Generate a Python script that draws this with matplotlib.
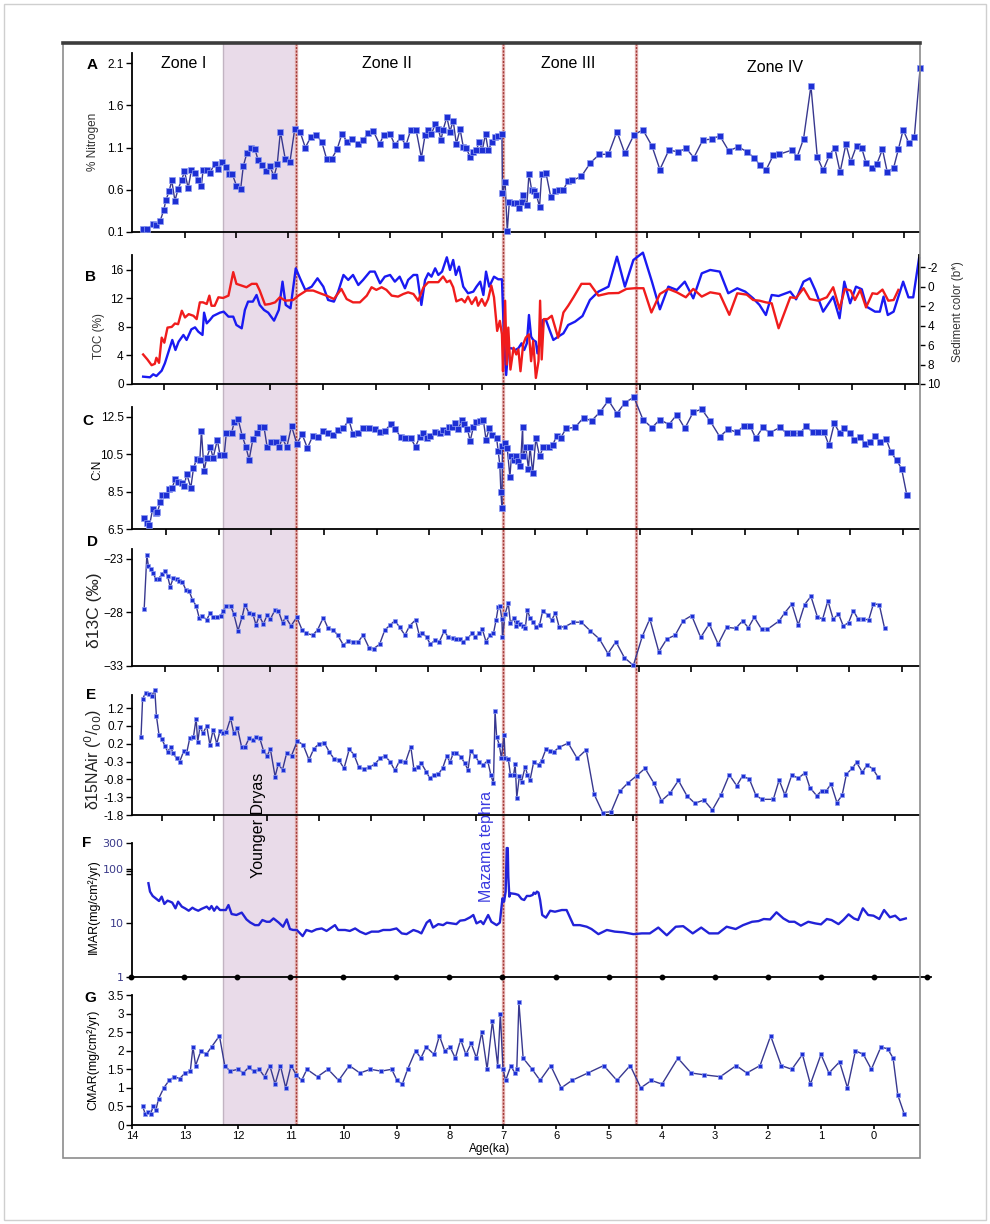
import numpy as np
import matplotlib.pyplot as plt
from matplotlib.lines import Line2D
from matplotlib.patches import Rectangle
from matplotlib.ticker import NullLocator

W, H = 990, 1224

plt.rcParams['font.family'] = ['Liberation Sans', 'DejaVu Sans']
plt.rcParams['axes.unicode_minus'] = False

# age axis layout: pixel column of 0 ka and pixels per ka
X_ZERO_PX = 874
PX_PER_KA = 53.0

# Younger Dryas band and zone boundaries (ka)
YD_START, YD_END = 12.28, 10.91
MAZAMA = 7.0
ZONE_III_IV = 4.49

# A: % nitrogen
nitrogen_age = [13.79, 13.71, 13.60, 13.54, 13.47, 13.40, 13.36, 13.30, 13.25, 13.19,
                13.13, 13.06, 13.01, 12.94, 12.88, 12.81, 12.75, 12.69, 12.66, 12.59,
                12.53, 12.44, 12.37, 12.30, 12.23, 12.17, 12.11, 12.03, 11.95, 11.90,
                11.83, 11.76, 11.68, 11.62, 11.54, 11.47, 11.40, 11.32, 11.26, 11.20,
                11.11, 11.02, 10.93, 10.83, 10.73, 10.63, 10.53, 10.42, 10.33, 10.23,
                10.13, 10.04, 9.94, 9.84, 9.74, 9.64, 9.54, 9.45, 9.33, 9.25,
                9.13, 9.04, 8.93, 8.83, 8.74, 8.64, 8.54, 8.47, 8.41, 8.35,
                8.28, 8.22, 8.17, 8.13, 8.06, 8.00, 7.94, 7.88, 7.81, 7.75,
                7.70, 7.62, 7.56, 7.50, 7.45, 7.39, 7.33, 7.28, 7.20, 7.15,
                7.09, 7.02, 7.01, 6.96, 6.92, 6.88, 6.80, 6.74, 6.70, 6.65,
                6.62, 6.55, 6.51, 6.46, 6.42, 6.37, 6.31, 6.27, 6.19, 6.10,
                6.02, 5.94, 5.86, 5.78, 5.69, 5.52, 5.35, 5.18, 5.01, 4.85,
                4.70, 4.53, 4.36, 4.19, 4.04, 3.87, 3.70, 3.54, 3.40, 3.23,
                3.06, 2.91, 2.74, 2.56, 2.40, 2.26, 2.15, 2.04, 1.90, 1.79,
                1.55, 1.45, 1.33, 1.19, 1.07, 0.96, 0.84, 0.74, 0.64, 0.53,
                0.44, 0.33, 0.23, 0.15, 0.04, -0.05, -0.16, -0.25, -0.37, -0.46,
                -0.55, -0.66, -0.76, -0.87]
nitrogen_pct = [0.14, 0.13, 0.20, 0.18, 0.23, 0.36, 0.48, 0.58, 0.71, 0.47,
                0.61, 0.72, 0.82, 0.62, 0.83, 0.80, 0.72, 0.65, 0.83, 0.83,
                0.80, 0.91, 0.85, 0.93, 0.87, 0.79, 0.79, 0.65, 0.61, 0.88,
                1.04, 1.09, 1.08, 0.95, 0.89, 0.82, 0.88, 0.76, 0.90, 1.29,
                0.97, 0.93, 1.32, 1.29, 1.10, 1.22, 1.25, 1.17, 0.97, 0.97,
                1.08, 1.26, 1.17, 1.20, 1.14, 1.19, 1.27, 1.30, 1.14, 1.25,
                1.26, 1.13, 1.22, 1.13, 1.31, 1.31, 0.98, 1.25, 1.31, 1.26,
                1.38, 1.32, 1.19, 1.31, 1.46, 1.29, 1.42, 1.14, 1.32, 1.11,
                1.10, 0.99, 1.05, 1.07, 1.17, 1.07, 1.26, 1.07, 1.17, 1.23,
                1.24, 1.26, 0.56, 0.69, 0.11, 0.46, 0.44, 0.44, 0.39, 0.46,
                0.54, 0.42, 0.79, 0.60, 0.58, 0.54, 0.40, 0.79, 0.80, 0.52,
                0.58, 0.60, 0.60, 0.70, 0.71, 0.76, 0.92, 1.02, 1.02, 1.29,
                1.03, 1.25, 1.31, 1.12, 0.84, 1.07, 1.05, 1.09, 0.98, 1.19,
                1.20, 1.24, 1.06, 1.11, 1.05, 0.98, 0.89, 0.83, 1.01, 1.02,
                1.07, 0.99, 1.20, 1.83, 0.99, 0.83, 1.01, 1.10, 0.81, 1.14,
                0.93, 1.12, 1.09, 0.92, 0.86, 0.90, 1.08, 0.81, 0.86, 1.08,
                1.31, 1.15, 1.22, 2.04]

# B: total organic carbon (left axis)
toc_age = [13.79, 13.66, 13.60, 13.54, 13.44, 13.38, 13.32, 13.24, 13.18, 13.12,
           13.03, 12.97, 12.88, 12.81, 12.75, 12.67, 12.64, 12.59, 12.53, 12.47,
           12.34, 12.27, 12.18, 12.09, 12.03, 11.93, 11.87, 11.81, 11.72, 11.65,
           11.59, 11.51, 11.43, 11.32, 11.23, 11.16, 11.10, 11.01, 10.91, 10.83,
           10.73, 10.61, 10.50, 10.39, 10.30, 10.19, 10.11, 10.01, 9.92, 9.83,
           9.73, 9.64, 9.51, 9.42, 9.32, 9.23, 9.13, 9.04, 8.95, 8.85,
           8.79, 8.69, 8.62, 8.54, 8.47, 8.41, 8.35, 8.28, 8.22, 8.15,
           8.06, 8.00, 7.94, 7.89, 7.83, 7.75, 7.66, 7.56, 7.50, 7.43,
           7.37, 7.32, 7.26, 7.17, 7.09, 7.02, 6.98, 6.94, 6.90, 6.84,
           6.77, 6.71, 6.65, 6.60, 6.55, 6.51, 6.47, 6.43, 6.38, 6.35,
           6.30, 6.25, 6.19, 6.11, 6.05, 5.96, 5.86, 5.77, 5.64, 5.50,
           5.36, 5.20, 5.01, 4.85, 4.70, 4.54, 4.36, 4.19, 4.04, 3.88,
           3.72, 3.57, 3.41, 3.25, 3.09, 2.91, 2.75, 2.58, 2.43, 2.28,
           2.16, 2.04, 1.93, 1.80, 1.58, 1.47, 1.33, 1.21, 1.11, 0.96,
           0.77, 0.65, 0.56, 0.45, 0.34, 0.23, 0.14, -0.02, -0.11, -0.18,
           -0.26, -0.37, -0.55, -0.65, -0.74, -0.85]
toc_pct = [1.03, 0.94, 1.36, 1.12, 1.87, 2.90, 4.30, 6.18, 4.77, 5.94,
           6.88, 6.18, 7.67, 7.95, 7.35, 6.88, 10.01, 8.51, 8.98, 9.54,
           10.01, 10.15, 9.45, 9.45, 8.28, 7.81, 10.39, 11.56, 11.56, 12.49,
           11.09, 10.39, 10.01, 8.89, 10.39, 14.36, 11.09, 10.62, 16.23, 14.83,
           13.19, 13.66, 14.83, 13.66, 11.79, 11.56, 12.96, 15.30, 14.60, 15.30,
           13.89, 14.60, 15.77, 15.77, 14.13, 15.06, 15.30, 14.36, 15.06, 13.43,
           14.60, 15.30, 15.30, 11.09, 14.60, 15.53, 15.06, 16.23, 15.30, 15.77,
           17.78, 16.00, 17.40, 15.30, 16.47, 13.66, 12.73, 12.96, 13.66, 14.36,
           12.49, 15.77, 13.66, 15.06, 14.69, 14.69, 6.41, 1.26, 5.01, 5.01,
           4.77, 5.01, 5.71, 4.77, 5.71, 9.68, 6.64, 6.18, 5.94, 4.30,
           6.18, 8.98, 8.98, 7.35, 6.18, 6.64, 7.11, 8.28, 8.75, 9.54,
           11.79, 12.96, 13.66, 17.87, 13.66, 17.40, 18.43, 14.36, 10.48, 13.66,
           13.19, 14.36, 12.02, 15.53, 16.00, 15.77, 12.73, 13.43, 12.96, 12.02,
           11.09, 9.68, 12.49, 12.35, 12.96, 11.88, 14.36, 14.83, 13.19, 10.15,
           12.26, 9.22, 14.36, 11.32, 13.66, 13.29, 10.85, 10.15, 10.15, 12.26,
           9.68, 10.15, 14.36, 12.16, 12.16, 17.64]

# B: sediment colour b* (right axis, reversed)
color_age = [13.79, 13.71, 13.63, 13.57, 13.54, 13.49, 13.44, 13.39, 13.33, 13.25,
             13.19, 13.13, 13.06, 13.00, 12.93, 12.84, 12.78, 12.72, 12.66, 12.59,
             12.54, 12.50, 12.44, 12.37, 12.28, 12.18, 12.09, 12.03, 11.93, 11.84,
             11.74, 11.65, 11.59, 11.49, 11.40, 11.30, 11.21, 11.11, 10.96, 10.86,
             10.71, 10.58, 10.45, 10.33, 10.19, 10.05, 9.95, 9.83, 9.70, 9.57,
             9.48, 9.39, 9.29, 9.20, 9.10, 8.98, 8.88, 8.79, 8.69, 8.60,
             8.50, 8.41, 8.32, 8.22, 8.13, 8.06, 8.00, 7.94, 7.88, 7.78,
             7.72, 7.66, 7.59, 7.51, 7.47, 7.40, 7.34, 7.28, 7.22, 7.17,
             7.11, 7.06, 7.02, 7.00, 6.96, 6.93, 6.90, 6.86, 6.80, 6.75,
             6.71, 6.67, 6.62, 6.57, 6.51, 6.47, 6.43, 6.38, 6.33, 6.30,
             6.27, 6.23, 6.16, 6.08, 5.96, 5.86, 5.77, 5.67, 5.52, 5.36,
             5.20, 5.01, 4.82, 4.67, 4.51, 4.35, 4.20, 4.04, 3.88, 3.72,
             3.55, 3.41, 3.25, 3.09, 2.91, 2.73, 2.58, 2.40, 2.28, 2.16,
             2.04, 1.93, 1.80, 1.58, 1.47, 1.33, 1.21, 1.05, 0.89, 0.77,
             0.65, 0.55, 0.44, 0.36, 0.26, 0.15, 0.03, -0.06, -0.16, -0.27,
             -0.37, -0.46]
color_bstar = [6.97, 7.48, 8.07, 7.93, 7.31, 7.83, 5.24, 5.76, 4.21, 4.14,
               3.79, 3.86, 2.48, 3.17, 2.83, 3.00, 3.34, 1.62, 1.62, 1.79,
               0.93, 1.97, 1.97, 1.10, 1.17, 0.93, -1.48, -0.28, -0.10, 0.07,
               -0.28, -0.28, 0.41, 1.86, 1.79, 1.62, 1.10, 1.45, 1.38, 0.93,
               0.41, 0.41, 0.69, 0.93, 1.28, 0.24, 1.28, 1.62, 1.62, 0.93,
               0.07, 0.34, 0.07, 0.34, 0.93, 1.03, 0.76, 0.59, 0.76, 1.45,
               0.07, -0.45, -0.45, -0.45, -1.03, -0.45, -0.62, 0.07, 1.52, 1.28,
               1.62, 1.03, 1.79, 1.10, 1.97, 1.28, 1.97, 1.28, -0.10, 1.10,
               4.55, 3.52, 4.90, 8.69, 1.45, 8.00, 4.21, 8.52, 6.28, 6.97,
               6.45, 8.69, 5.93, 5.24, 4.90, 7.66, 5.59, 9.38, 7.66, 1.45,
               7.48, 3.34, 3.34, 3.00, 5.24, 2.66, 1.97, 1.10, -0.28, -0.28,
               0.93, 0.69, 0.66, 0.24, 0.17, 0.17, 2.66, 0.76, 0.24, 0.59,
               1.10, 0.24, 1.03, 0.59, 0.76, 2.90, 0.69, 0.83, 1.38, 1.45,
               1.62, 1.72, 4.28, 1.10, 1.17, 0.17, 1.28, 1.45, 1.10, 0.07,
               2.31, 0.24, 0.41, 1.38, 0.34, 2.14, 0.69, 0.76, 0.31, 1.45,
               1.38, 0.34]

# C: C:N ratio
cn_age = [13.77, 13.71, 13.67, 13.61, 13.55, 13.52, 13.47, 13.43, 13.36, 13.30,
          13.24, 13.19, 13.13, 13.06, 13.01, 12.97, 12.89, 12.84, 12.78, 12.72,
          12.69, 12.64, 12.59, 12.52, 12.47, 12.39, 12.34, 12.26, 12.22, 12.12,
          12.07, 12.00, 11.92, 11.85, 11.79, 11.72, 11.65, 11.59, 11.51, 11.45,
          11.37, 11.28, 11.23, 11.16, 11.08, 10.99, 10.89, 10.79, 10.69, 10.59,
          10.49, 10.39, 10.30, 10.20, 10.11, 10.01, 9.91, 9.83, 9.73, 9.64,
          9.52, 9.42, 9.32, 9.23, 9.12, 9.03, 8.93, 8.84, 8.74, 8.65,
          8.57, 8.50, 8.44, 8.37, 8.28, 8.19, 8.14, 8.06, 8.02, 7.96,
          7.91, 7.84, 7.78, 7.73, 7.67, 7.62, 7.56, 7.50, 7.43, 7.37,
          7.32, 7.26, 7.20, 7.12, 7.09, 7.06, 7.04, 7.02, 7.01, 6.96,
          6.92, 6.87, 6.84, 6.80, 6.75, 6.71, 6.67, 6.63, 6.62, 6.57,
          6.52, 6.49, 6.44, 6.38, 6.31, 6.24, 6.14, 6.06, 5.99, 5.91,
          5.81, 5.64, 5.48, 5.33, 5.17, 5.01, 4.85, 4.70, 4.53, 4.36,
          4.19, 4.04, 3.87, 3.72, 3.57, 3.41, 3.25, 3.09, 2.91, 2.75,
          2.59, 2.46, 2.34, 2.23, 2.10, 1.97, 1.77, 1.65, 1.52, 1.40,
          1.28, 1.16, 1.05, 0.94, 0.85, 0.75, 0.65, 0.56, 0.46, 0.37,
          0.26, 0.17, 0.07, -0.02, -0.11, -0.23, -0.32, -0.43, -0.52, -0.62]
cn_ratio = [7.07, 6.83, 6.69, 7.57, 7.35, 7.39, 7.92, 8.31, 8.31, 8.62,
            8.71, 9.15, 9.03, 8.98, 8.80, 9.47, 8.71, 9.75, 10.26, 10.21,
            11.76, 9.59, 10.30, 10.88, 10.30, 11.27, 10.47, 10.47, 11.65, 11.65,
            12.24, 12.41, 11.48, 10.88, 10.21, 11.30, 11.65, 11.97, 11.97, 10.88,
            11.18, 11.18, 10.88, 11.35, 10.88, 12.01, 11.06, 11.57, 10.83, 11.48,
            11.41, 11.74, 11.65, 11.53, 11.80, 11.88, 12.36, 11.58, 11.62, 11.88,
            11.88, 11.83, 11.67, 11.74, 12.11, 11.85, 11.41, 11.39, 11.35, 10.91,
            11.44, 11.62, 11.39, 11.50, 11.71, 11.65, 11.80, 11.67, 11.97, 11.94,
            12.15, 11.85, 12.32, 12.11, 11.85, 11.21, 11.94, 12.24, 12.29, 12.32,
            11.27, 11.88, 11.53, 11.35, 10.65, 9.94, 8.48, 7.60, 10.95, 11.09,
            10.83, 9.29, 10.42, 10.21, 10.39, 10.12, 9.89, 11.97, 10.39, 10.88,
            9.73, 10.91, 9.50, 11.35, 10.39, 10.88, 10.91, 11.00, 11.48, 11.39,
            11.88, 11.94, 12.46, 12.29, 12.76, 13.38, 12.68, 13.26, 13.56, 12.36,
            11.92, 12.36, 12.09, 12.62, 11.88, 12.76, 12.91, 12.27, 11.44, 11.85,
            11.67, 12.01, 12.02, 11.35, 11.94, 11.65, 11.94, 11.62, 11.62, 11.62,
            12.02, 11.67, 11.67, 11.67, 10.97, 12.15, 11.65, 11.88, 11.65, 11.27,
            11.44, 11.06, 11.14, 11.50, 11.14, 11.32, 10.60, 10.17, 9.73, 8.31]

# D: d13C (per mil)
d13c_age = [13.77, 13.72, 13.69, 13.65, 13.60, 13.55, 13.50, 13.44, 13.38, 13.33,
            13.28, 13.22, 13.16, 13.11, 13.05, 12.98, 12.92, 12.86, 12.79, 12.73,
            12.67, 12.59, 12.53, 12.47, 12.40, 12.33, 12.28, 12.22, 12.14, 12.08,
            12.00, 11.92, 11.87, 11.79, 11.72, 11.66, 11.60, 11.52, 11.45, 11.39,
            11.30, 11.24, 11.16, 11.10, 11.00, 10.89, 10.79, 10.71, 10.59, 10.50,
            10.39, 10.30, 10.20, 10.12, 10.01, 9.92, 9.83, 9.73, 9.64, 9.53,
            9.44, 9.33, 9.23, 9.13, 9.04, 8.95, 8.85, 8.76, 8.65, 8.58,
            8.52, 8.44, 8.37, 8.28, 8.20, 8.11, 8.03, 7.95, 7.88, 7.81,
            7.75, 7.67, 7.58, 7.52, 7.45, 7.39, 7.32, 7.25, 7.18, 7.13,
            7.09, 7.06, 7.02, 7.01, 6.96, 6.90, 6.86, 6.80, 6.75, 6.73,
            6.68, 6.63, 6.58, 6.54, 6.49, 6.44, 6.38, 6.31, 6.25, 6.16,
            6.08, 6.01, 5.94, 5.83, 5.67, 5.52, 5.35, 5.18, 5.02, 4.87,
            4.71, 4.54, 4.37, 4.23, 4.06, 3.91, 3.75, 3.60, 3.44, 3.27,
            3.11, 2.94, 2.78, 2.61, 2.48, 2.37, 2.26, 2.12, 2.01, 1.79,
            1.68, 1.55, 1.43, 1.31, 1.19, 1.07, 0.97, 0.87, 0.77, 0.67,
            0.58, 0.48, 0.39, 0.30, 0.20, 0.10, 0.01, -0.10, -0.20]
d13c_val = [-27.67, -22.69, -23.69, -24.00, -24.32, -24.94, -24.88, -24.47, -24.16, -24.57,
            -25.63, -24.79, -24.88, -25.10, -25.16, -25.95, -26.04, -26.82, -27.39, -28.55,
            -28.33, -28.71, -28.08, -28.45, -28.39, -28.30, -27.86, -27.39, -27.39, -28.14,
            -29.71, -28.39, -27.29, -28.08, -28.14, -29.18, -28.33, -29.08, -28.24, -28.64,
            -27.76, -27.83, -28.96, -28.45, -29.27, -28.45, -29.65, -29.96, -30.12, -29.65,
            -28.49, -29.49, -29.65, -30.12, -31.06, -30.68, -30.74, -30.74, -30.12, -31.28,
            -31.37, -30.99, -29.65, -29.18, -28.77, -29.39, -30.12, -29.24, -28.71, -30.12,
            -29.90, -30.34, -30.96, -30.59, -30.74, -29.74, -30.34, -30.43, -30.49, -30.52,
            -30.74, -30.43, -29.96, -30.27, -29.96, -29.58, -30.74, -30.12, -29.96, -28.71,
            -27.51, -27.39, -28.64, -30.34, -28.14, -27.14, -29.02, -28.55, -29.27, -28.86,
            -29.08, -29.27, -29.49, -27.76, -28.55, -28.86, -29.33, -29.18, -27.83, -28.24,
            -28.71, -28.02, -29.39, -29.33, -28.92, -28.92, -29.74, -30.49, -31.84, -30.74,
            -32.22, -32.94, -30.21, -28.61, -31.68, -30.49, -30.12, -28.77, -28.30, -30.34,
            -29.08, -30.96, -29.39, -29.49, -28.80, -29.43, -28.45, -29.58, -29.58, -28.80,
            -28.02, -27.23, -29.18, -27.29, -26.51, -28.39, -28.64, -26.92, -28.64, -28.14,
            -29.27, -28.96, -27.83, -28.64, -28.61, -28.71, -27.20, -27.29, -29.49]

# E: d15N (air, per mil)
d15n_age = [13.83, 13.80, 13.74, 13.67, 13.63, 13.57, 13.54, 13.49, 13.44, 13.38,
            13.33, 13.27, 13.22, 13.16, 13.10, 13.02, 12.97, 12.91, 12.84, 12.79,
            12.76, 12.72, 12.66, 12.59, 12.53, 12.47, 12.40, 12.34, 12.28, 12.22,
            12.14, 12.08, 12.01, 11.93, 11.87, 11.79, 11.72, 11.66, 11.59, 11.52,
            11.45, 11.39, 11.30, 11.24, 11.16, 11.08, 10.99, 10.88, 10.77, 10.66,
            10.57, 10.47, 10.37, 10.28, 10.19, 10.10, 10.00, 9.90, 9.81, 9.72,
            9.62, 9.52, 9.42, 9.32, 9.23, 9.13, 9.04, 8.95, 8.84, 8.74,
            8.68, 8.60, 8.54, 8.45, 8.38, 8.30, 8.22, 8.14, 8.06, 8.00,
            7.94, 7.88, 7.79, 7.72, 7.66, 7.61, 7.53, 7.45, 7.37, 7.29,
            7.23, 7.18, 7.15, 7.12, 7.07, 7.03, 6.98, 6.96, 6.90, 6.86,
            6.80, 6.77, 6.74, 6.69, 6.65, 6.58, 6.54, 6.49, 6.42, 6.33,
            6.27, 6.19, 6.11, 6.04, 5.94, 5.77, 5.60, 5.43, 5.28, 5.12,
            4.96, 4.80, 4.65, 4.48, 4.32, 4.16, 4.01, 3.85, 3.69, 3.53,
            3.38, 3.21, 3.05, 2.89, 2.73, 2.59, 2.48, 2.35, 2.23, 2.12,
            1.90, 1.79, 1.68, 1.55, 1.43, 1.30, 1.21, 1.08, 0.99, 0.91,
            0.81, 0.70, 0.60, 0.52, 0.41, 0.33, 0.22, 0.13, 0.02, -0.07]
d15n_val = [0.40, 1.46, 1.64, 1.60, 1.53, 1.72, 0.99, 0.45, 0.34, 0.15,
            -0.02, 0.10, -0.07, -0.21, -0.30, 0.01, -0.07, 0.36, 0.40, 0.91,
            0.24, 0.68, 0.50, 0.70, 0.17, 0.59, 0.20, 0.56, 0.50, 0.54,
            0.92, 0.50, 0.64, 0.10, 0.10, 0.36, 0.31, 0.40, 0.36, 0.01,
            -0.14, 0.06, -0.72, -0.37, -0.53, -0.05, -0.13, 0.28, 0.17, -0.25,
            0.06, 0.20, 0.22, -0.02, -0.22, -0.25, -0.49, 0.05, -0.11, -0.46,
            -0.51, -0.46, -0.37, -0.21, -0.14, -0.30, -0.55, -0.27, -0.32, 0.12,
            -0.52, -0.44, -0.35, -0.58, -0.77, -0.67, -0.65, -0.49, -0.14, -0.32,
            -0.07, -0.05, -0.18, -0.35, -0.53, 0.00, -0.14, -0.32, -0.39, -0.27,
            -0.67, -0.91, 1.11, 0.40, 0.17, -0.21, 0.45, -0.21, -0.23, -0.67,
            -0.67, -0.37, -1.31, -0.70, -0.86, -0.44, -0.67, -0.82, -0.30, -0.39,
            -0.27, 0.05, 0.01, -0.02, 0.10, 0.22, -0.21, 0.03, -1.22, -1.73,
            -1.71, -1.14, -0.91, -0.70, -0.49, -0.89, -1.40, -1.19, -0.83, -1.26,
            -1.47, -1.38, -1.66, -1.24, -0.67, -0.98, -0.70, -0.80, -1.24, -1.36,
            -1.36, -0.82, -1.24, -0.67, -0.77, -0.61, -1.03, -1.26, -1.12, -1.14,
            -0.93, -1.45, -1.24, -0.65, -0.49, -0.32, -0.60, -0.39, -0.51, -0.72]

# F: inorganic mass accumulation rate (mg/cm2/yr)
imar_age = [13.69, 13.66, 13.61, 13.54, 13.49, 13.44, 13.39, 13.33, 13.28, 13.24,
            13.18, 13.13, 13.06, 13.00, 12.93, 12.86, 12.81, 12.75, 12.69, 12.59,
            12.54, 12.50, 12.45, 12.40, 12.34, 12.23, 12.18, 12.12, 12.03, 11.93,
            11.84, 11.77, 11.68, 11.61, 11.54, 11.46, 11.40, 11.33, 11.23, 11.15,
            11.08, 11.02, 10.96, 10.89, 10.78, 10.71, 10.61, 10.52, 10.42, 10.33,
            10.17, 10.11, 9.98, 9.89, 9.79, 9.70, 9.59, 9.48, 9.35, 9.26,
            9.13, 9.01, 8.91, 8.82, 8.69, 8.60, 8.54, 8.44, 8.38, 8.32,
            8.22, 8.13, 8.06, 7.97, 7.88, 7.81, 7.72, 7.62, 7.56, 7.50,
            7.42, 7.37, 7.28, 7.22, 7.12, 7.06, 7.01, 6.98, 6.95, 6.93,
            6.91, 6.90, 6.88, 6.86, 6.77, 6.71, 6.65, 6.60, 6.55, 6.49,
            6.44, 6.42, 6.39, 6.36, 6.33, 6.30, 6.26, 6.19, 6.11, 6.02,
            5.89, 5.80, 5.67, 5.55, 5.42, 5.33, 5.20, 5.04, 4.89, 4.73,
            4.54, 4.38, 4.23, 4.07, 3.91, 3.74, 3.60, 3.42, 3.26, 3.11,
            2.94, 2.78, 2.61, 2.47, 2.30, 2.18, 2.08, 1.96, 1.84, 1.71,
            1.60, 1.50, 1.38, 1.24, 1.11, 1.00, 0.89, 0.80, 0.67, 0.58,
            0.48, 0.38, 0.30, 0.21, 0.11, 0.01, -0.10, -0.19, -0.30, -0.40,
            -0.49, -0.60]
imar_val = [54.2, 37.9, 31.5, 27.7, 25.4, 30.6, 22.4, 25.8, 24.7, 23.7,
            18.6, 24.7, 20.0, 18.6, 16.8, 19.1, 17.8, 16.8, 18.1, 20.0,
            17.8, 20.5, 16.8, 20.0, 17.3, 17.3, 21.4, 14.6, 14.0, 15.5,
            11.6, 10.2, 9.1, 9.1, 11.3, 10.5, 10.5, 12.1, 10.1, 8.5,
            11.6, 7.7, 7.4, 7.4, 5.7, 7.4, 6.9, 7.6, 7.9, 7.1,
            9.1, 7.4, 7.4, 7.1, 7.9, 6.9, 6.2, 6.9, 6.9, 7.4,
            7.4, 7.9, 6.4, 6.2, 7.4, 6.9, 6.4, 10.1, 11.3, 8.2,
            9.5, 9.1, 10.1, 9.8, 9.5, 11.0, 11.3, 12.7, 14.0, 9.8,
            10.8, 9.5, 14.0, 10.5, 9.1, 10.1, 28.5, 24.7, 37.9, 242.0,
            242.0, 72.1, 30.6, 35.3, 34.3, 32.9, 27.7, 26.5, 31.5, 31.5,
            32.9, 36.3, 34.3, 37.9, 36.3, 26.5, 14.0, 12.5, 16.8, 16.1,
            17.3, 17.3, 9.1, 9.1, 8.5, 7.7, 6.2, 7.4, 6.9, 6.7,
            6.2, 6.4, 6.4, 8.2, 5.9, 8.5, 8.7, 6.4, 8.2, 6.4,
            6.4, 8.5, 7.7, 9.1, 10.5, 10.8, 11.8, 11.6, 15.7, 12.1,
            10.5, 10.5, 8.9, 10.5, 9.8, 9.4, 11.8, 11.3, 9.5, 11.3,
            14.4, 12.1, 11.3, 18.6, 14.0, 13.6, 11.8, 17.3, 12.7, 13.6,
            11.3, 12.1]

# G: carbon mass accumulation rate (mg/cm2/yr)
cmar_age = [13.80, 13.75, 13.70, 13.65, 13.60, 13.55, 13.50, 13.40, 13.30, 13.20,
            13.10, 13.00, 12.90, 12.85, 12.80, 12.70, 12.60, 12.50, 12.35, 12.25,
            12.15, 12.00, 11.90, 11.80, 11.70, 11.60, 11.50, 11.40, 11.30, 11.20,
            11.10, 11.00, 10.90, 10.80, 10.70, 10.50, 10.30, 10.10, 9.90, 9.70,
            9.50, 9.30, 9.10, 9.00, 8.90, 8.80, 8.65, 8.55, 8.45, 8.30,
            8.20, 8.10, 8.00, 7.90, 7.80, 7.70, 7.60, 7.50, 7.40, 7.30,
            7.20, 7.10, 7.05, 7.00, 6.95, 6.85, 6.78, 6.74, 6.70, 6.62,
            6.45, 6.30, 6.10, 5.90, 5.70, 5.40, 5.10, 4.85, 4.60, 4.40,
            4.20, 4.00, 3.70, 3.45, 3.20, 2.90, 2.60, 2.40, 2.15, 1.95,
            1.75, 1.55, 1.35, 1.20, 1.00, 0.85, 0.65, 0.50, 0.35, 0.20,
            0.05, -0.13, -0.26, -0.36, -0.45, -0.57]
cmar_val = [0.50, 0.30, 0.35, 0.30, 0.50, 0.40, 0.70, 1.00, 1.20, 1.30,
            1.25, 1.40, 1.45, 2.10, 1.60, 2.00, 1.90, 2.10, 2.40, 1.60,
            1.45, 1.50, 1.40, 1.55, 1.45, 1.50, 1.30, 1.60, 1.10, 1.60,
            1.00, 1.60, 1.35, 1.20, 1.50, 1.30, 1.50, 1.20, 1.60, 1.40,
            1.50, 1.45, 1.50, 1.20, 1.10, 1.50, 2.00, 1.80, 2.10, 1.90,
            2.40, 2.00, 2.10, 1.80, 2.30, 1.90, 2.20, 1.80, 2.50, 1.50,
            2.80, 1.60, 3.00, 1.50, 1.20, 1.60, 1.40, 1.50, 3.30, 1.80,
            1.50, 1.20, 1.60, 1.00, 1.20, 1.40, 1.60, 1.20, 1.60, 1.00,
            1.20, 1.10, 1.80, 1.40, 1.35, 1.30, 1.60, 1.40, 1.60, 2.40,
            1.60, 1.50, 1.90, 1.10, 1.90, 1.40, 1.70, 1.00, 2.00, 1.90,
            1.50, 2.10, 2.05, 1.80, 0.80, 0.30]

NAVY = '#38388f'
MARK = '#1d2fd4'
HALO = '#8d9bf2'
TICK_NAVY = '#3a3a8a'


def age_at(px):
    """Age (ka) sitting under a given pixel column."""
    return (X_ZERO_PX - px) / PX_PER_KA


def fig_box(fig, left, top, right, bottom, **kw):
    """Adds an axes from its pixel edges, measured from the top-left corner."""
    return fig.add_axes([left / W, 1 - bottom / H, (right - left) / W, (bottom - top) / H], **kw)


def fig_text(fig, x, y, s, **kw):
    kw.setdefault('ha', 'center')
    kw.setdefault('va', 'center')
    return fig.text(x / W, 1 - y / H, s, **kw)


def panel(fig, top, bottom, xticks, right=919):
    ax = fig_box(fig, 132, top, right, bottom)
    ax.set_facecolor('none')
    ax.set_xlim(age_at(132), age_at(right))
    for side in ('top', 'right'):
        ax.spines[side].set_visible(False)
    for side in ('left', 'bottom'):
        ax.spines[side].set_linewidth(1.3)
    ax.set_xticks(xticks)
    ax.tick_params(axis='x', direction='out', length=4, width=1.2, labelbottom=False)
    ax.tick_params(axis='y', direction='out', length=4, width=1.0, labelsize=8.5, pad=2)
    return ax


def squares(ax, age, val, ms):
    ax.plot(age, val, color=NAVY, lw=1.0, marker='s', ms=ms, mfc=MARK, mec=HALO,
            mew=0.5, clip_on=False, zorder=3)


def main():
    fig = plt.figure(figsize=(W / 100, H / 100), dpi=100)

    # page frame
    fig.add_artist(Rectangle((4 / W, 4 / H), 982 / W, 1216 / H, transform=fig.transFigure,
                             fill=False, ec='#cfcfcf', lw=1.0))
    fig.add_artist(Rectangle((63 / W, 1 - 1158 / H), 857 / W, 1115 / H, transform=fig.transFigure,
                             fill=False, ec='#8c8c8c', lw=1.2))
    fig.add_artist(Line2D([63 / W, 920 / W], [1 - 43 / H] * 2, color='#3c3c3c', lw=2.6))

    # shading and zone boundaries behind all panels
    bg = fig_box(fig, 132, 43, 919, 1125)
    bg.set_xlim(age_at(132), age_at(919))
    bg.axis('off')
    bg.axvspan(YD_START, YD_END, color='#e9dbe9', lw=0)
    bg.axvline(YD_START, color='#c2b4c2', lw=1.0)
    for age in (YD_END, MAZAMA, ZONE_III_IV):
        bg.axvline(age, color='#e6b4b4', lw=2.4)
        bg.axvline(age, color='#a23a36', lw=1.0, ls=(0, (1.5, 1)))

    # A
    ax = panel(fig, 53, 232, np.linspace(age_at(185), age_at(904), 15))
    squares(ax, nitrogen_age, nitrogen_pct, 4.3)
    ax.set_ylim(0.1, 2.22)
    ax.set_yticks([0.1, 0.6, 1.1, 1.6, 2.1], ['0.1', '0.6', '1.1', '1.6', '2.1'])

    # B
    ax = panel(fig, 255, 384, np.linspace(age_at(164), age_at(905), 15))
    ax.plot(toc_age, toc_pct, color='#1a1af2', lw=1.7, clip_on=False, zorder=3)
    ax.set_ylim(0, 18.1)
    ax.set_yticks([0, 4, 8, 12, 16])
    axr = ax.twinx()
    axr.set_facecolor('none')
    axr.plot(color_age, color_bstar, color='#f01c1c', lw=1.7, clip_on=False, zorder=3)
    axr.set_ylim(10, -3.24)
    axr.set_yticks([-2, 0, 2, 4, 6, 8, 10])
    for side in ('top', 'left', 'bottom'):
        axr.spines[side].set_visible(False)
    axr.spines['right'].set_linewidth(1.3)
    axr.tick_params(axis='y', direction='out', length=4, width=1.0, labelsize=8.5, pad=2)

    # C
    ax = panel(fig, 407, 529, np.linspace(age_at(166), age_at(903), 15))
    squares(ax, cn_age, cn_ratio, 4.3)
    ax.set_ylim(6.5, 13.03)
    ax.set_yticks([6.5, 8.5, 10.5, 12.5], ['6.5', '8.5', '10.5', '12.5'])

    # D
    ax = panel(fig, 549, 666, np.linspace(age_at(165), age_at(902), 15))
    squares(ax, d13c_age, d13c_val, 3.0)
    ax.set_ylim(-33, -22.1)
    ax.set_yticks([-23, -28, -33], ['\u221223', '\u221228', '\u221233'])

    # E
    ax = panel(fig, 695, 815, np.linspace(age_at(162), age_at(895), 15))
    squares(ax, d15n_age, d15n_val, 3.0)
    ax.set_ylim(-1.8, 1.57)
    e_ticks = [1.2, 0.7, 0.2, -0.3, -0.8, -1.3, -1.8]
    ax.set_yticks(e_ticks, [f'{t:.1f}' for t in e_ticks])

    # F (log scale, dotted age axis running past the frame)
    ax = panel(fig, 843, 977, [], right=931)
    ax.plot(imar_age, imar_val, color='#2222d8', lw=1.7, clip_on=False, zorder=3)
    ax.set_yscale('log')
    ax.set_ylim(1, 300)
    ax.set_yticks([1, 10, 100, 300], ['1', '10', '100', '300'])
    ax.set_yticks([80, 90], minor=True)
    ax.tick_params(axis='y', which='minor', length=4, width=1.0)
    ax.tick_params(axis='y', labelcolor=TICK_NAVY)
    for lab in ax.get_yticklabels():
        lab.set_family('DejaVu Sans')
        lab.set_fontsize(8)
    f_ticks = np.linspace(age_at(131), age_at(927), 16)
    ax.plot(f_ticks, np.zeros(len(f_ticks)), 'o', color='black', ms=3.2,
            transform=ax.get_xaxis_transform(), clip_on=False, zorder=4)

    # G
    ax = panel(fig, 995, 1125, list(range(14, -1, -1)))
    squares(ax, cmar_age, cmar_val, 3.0)
    ax.set_ylim(0, 3.5)
    g_ticks = [0, 0.5, 1, 1.5, 2, 2.5, 3, 3.5]
    ax.set_yticks(g_ticks, ['0', '0.5', '1', '1.5', '2', '2.5', '3', '3.5'])
    ax.set_xticks(list(range(14, -1, -1)), [str(a) for a in range(14, -1, -1)])
    ax.tick_params(axis='x', labelbottom=True, labelsize=8, length=3, pad=1)

    # panel letters
    for letter, x, y in (('A', 92, 65), ('B', 90, 277), ('C', 88, 421), ('D', 93, 542),
                         ('E', 91, 695), ('F', 87, 843), ('G', 90, 998)):
        fig_text(fig, x, y, letter, fontsize=11, fontweight='bold')

    # axis titles
    fig_text(fig, 93, 142, '% Nitrogen', rotation=90, fontsize=8.5, color='#333333')
    fig_text(fig, 99, 336, 'TOC (%)', rotation=90, fontsize=8.5, color='#333333')
    fig_text(fig, 958, 312, 'Sediment color (b*)', rotation=90, fontsize=8.5, color='#333333')
    fig_text(fig, 97, 470, 'C:N', rotation=90, fontsize=8.5)
    fig_text(fig, 95, 610, 'δ13C (‰)', rotation=90, fontsize=12.5, color='#222222')
    fig_text(fig, 93, 760, r'δ15NAir ($^{0}$/$_{00}$)', rotation=90, fontsize=11.5, color='#222222')
    fig_text(fig, 93, 907, 'IMAR(mg/cm²/yr)', rotation=90, fontsize=9)
    fig_text(fig, 93, 1060, 'CMAR(mg/cm²/yr)', rotation=90, fontsize=9)
    fig_text(fig, 490, 1149, 'Age(ka)', fontsize=8.5)

    # zone names and event labels
    for name, x, y in (('Zone I', 184, 64), ('Zone II', 387, 64),
                       ('Zone III', 568, 64), ('Zone IV', 775, 68)):
        fig_text(fig, x, y, name, fontsize=11.5)
    fig_text(fig, 258, 825, 'Younger Dryas', rotation=90, fontsize=11.5)
    fig_text(fig, 487, 847, 'Mazama tephra', rotation=90, fontsize=11.5, color='#3a3ae0')

    fig.savefig('out.png', dpi=100)


if __name__ == "__main__":
    main()
